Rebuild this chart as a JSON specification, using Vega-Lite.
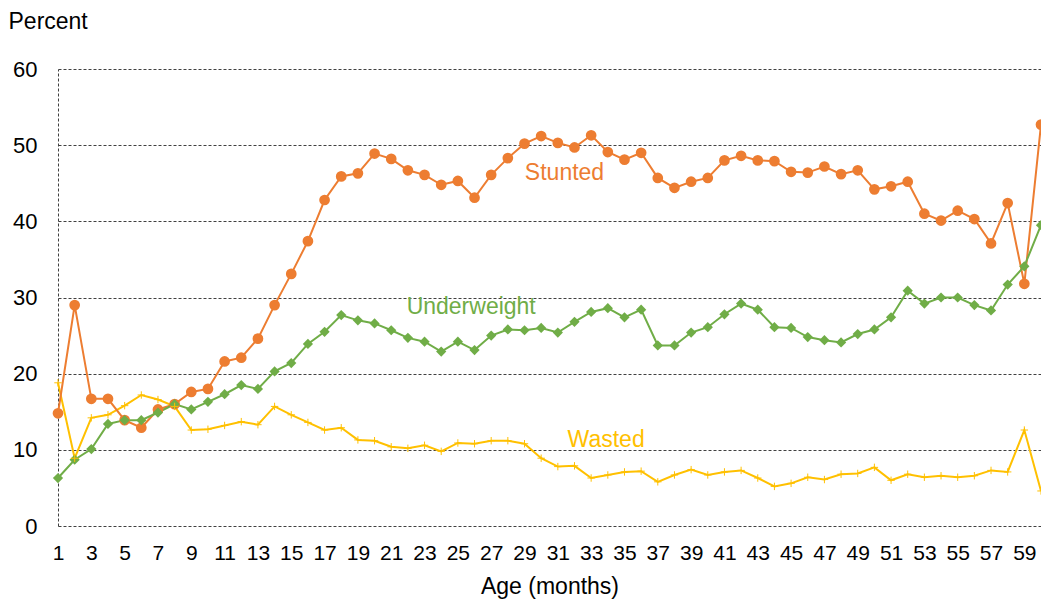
{
  "$schema": "https://vega.github.io/schema/vega-lite/v6.json",
  "autosize": {"type": "none"},
  "width": 983,
  "height": 457,
  "padding": {"left": 58, "top": 69, "right": 0, "bottom": 74},
  "background": "white",
  "config": {
    "view": {"stroke": null},
    "font": "Liberation Sans",
    "axis": {"labelFont": "Liberation Sans", "titleFont": "Liberation Sans", "labelColor": "#000", "titleColor": "#000", "titleFontWeight": "normal"}
  },
  "datasets": {
    "rates": [
      {"age": 1, "Stunted": 14.8, "Underweight": 6.3, "Wasted": 18.8},
      {"age": 2, "Stunted": 29.0, "Underweight": 8.7, "Wasted": 8.9},
      {"age": 3, "Stunted": 16.7, "Underweight": 10.1, "Wasted": 14.2},
      {"age": 4, "Stunted": 16.7, "Underweight": 13.4, "Wasted": 14.6},
      {"age": 5, "Stunted": 13.9, "Underweight": 13.9, "Wasted": 15.8},
      {"age": 6, "Stunted": 12.9, "Underweight": 13.9, "Wasted": 17.2},
      {"age": 7, "Stunted": 15.3, "Underweight": 14.9, "Wasted": 16.6},
      {"age": 8, "Stunted": 16.0, "Underweight": 16.0, "Wasted": 15.7},
      {"age": 9, "Stunted": 17.6, "Underweight": 15.3, "Wasted": 12.6},
      {"age": 10, "Stunted": 18.0, "Underweight": 16.3, "Wasted": 12.7},
      {"age": 11, "Stunted": 21.6, "Underweight": 17.3, "Wasted": 13.2},
      {"age": 12, "Stunted": 22.1, "Underweight": 18.5, "Wasted": 13.7},
      {"age": 13, "Stunted": 24.6, "Underweight": 18.0, "Wasted": 13.3},
      {"age": 14, "Stunted": 29.0, "Underweight": 20.3, "Wasted": 15.7},
      {"age": 15, "Stunted": 33.1, "Underweight": 21.4, "Wasted": 14.6},
      {"age": 16, "Stunted": 37.4, "Underweight": 23.9, "Wasted": 13.6},
      {"age": 17, "Stunted": 42.8, "Underweight": 25.5, "Wasted": 12.6},
      {"age": 18, "Stunted": 45.9, "Underweight": 27.7, "Wasted": 12.9},
      {"age": 19, "Stunted": 46.3, "Underweight": 27.0, "Wasted": 11.3},
      {"age": 20, "Stunted": 48.9, "Underweight": 26.6, "Wasted": 11.2},
      {"age": 21, "Stunted": 48.2, "Underweight": 25.7, "Wasted": 10.4},
      {"age": 22, "Stunted": 46.7, "Underweight": 24.7, "Wasted": 10.2},
      {"age": 23, "Stunted": 46.1, "Underweight": 24.2, "Wasted": 10.6},
      {"age": 24, "Stunted": 44.8, "Underweight": 22.9, "Wasted": 9.8},
      {"age": 25, "Stunted": 45.3, "Underweight": 24.2, "Wasted": 10.9},
      {"age": 26, "Stunted": 43.1, "Underweight": 23.1, "Wasted": 10.8},
      {"age": 27, "Stunted": 46.1, "Underweight": 25.0, "Wasted": 11.2},
      {"age": 28, "Stunted": 48.3, "Underweight": 25.8, "Wasted": 11.2},
      {"age": 29, "Stunted": 50.2, "Underweight": 25.7, "Wasted": 10.8},
      {"age": 30, "Stunted": 51.2, "Underweight": 26.0, "Wasted": 8.9},
      {"age": 31, "Stunted": 50.3, "Underweight": 25.4, "Wasted": 7.8},
      {"age": 32, "Stunted": 49.7, "Underweight": 26.8, "Wasted": 7.9},
      {"age": 33, "Stunted": 51.3, "Underweight": 28.1, "Wasted": 6.3},
      {"age": 34, "Stunted": 49.1, "Underweight": 28.6, "Wasted": 6.7},
      {"age": 35, "Stunted": 48.1, "Underweight": 27.4, "Wasted": 7.1},
      {"age": 36, "Stunted": 49.0, "Underweight": 28.4, "Wasted": 7.2},
      {"age": 37, "Stunted": 45.7, "Underweight": 23.7, "Wasted": 5.8},
      {"age": 38, "Stunted": 44.4, "Underweight": 23.7, "Wasted": 6.7},
      {"age": 39, "Stunted": 45.2, "Underweight": 25.4, "Wasted": 7.4},
      {"age": 40, "Stunted": 45.7, "Underweight": 26.1, "Wasted": 6.7},
      {"age": 41, "Stunted": 48.0, "Underweight": 27.8, "Wasted": 7.1},
      {"age": 42, "Stunted": 48.6, "Underweight": 29.2, "Wasted": 7.3},
      {"age": 43, "Stunted": 48.0, "Underweight": 28.4, "Wasted": 6.3},
      {"age": 44, "Stunted": 47.9, "Underweight": 26.1, "Wasted": 5.2},
      {"age": 45, "Stunted": 46.5, "Underweight": 26.0, "Wasted": 5.6},
      {"age": 46, "Stunted": 46.4, "Underweight": 24.8, "Wasted": 6.4},
      {"age": 47, "Stunted": 47.2, "Underweight": 24.4, "Wasted": 6.1},
      {"age": 48, "Stunted": 46.2, "Underweight": 24.1, "Wasted": 6.8},
      {"age": 49, "Stunted": 46.7, "Underweight": 25.2, "Wasted": 6.9},
      {"age": 50, "Stunted": 44.2, "Underweight": 25.8, "Wasted": 7.7},
      {"age": 51, "Stunted": 44.6, "Underweight": 27.4, "Wasted": 6.0},
      {"age": 52, "Stunted": 45.2, "Underweight": 30.9, "Wasted": 6.8},
      {"age": 53, "Stunted": 41.0, "Underweight": 29.2, "Wasted": 6.4},
      {"age": 54, "Stunted": 40.1, "Underweight": 30.0, "Wasted": 6.6},
      {"age": 55, "Stunted": 41.4, "Underweight": 30.0, "Wasted": 6.4},
      {"age": 56, "Stunted": 40.3, "Underweight": 29.0, "Wasted": 6.6},
      {"age": 57, "Stunted": 37.1, "Underweight": 28.3, "Wasted": 7.3},
      {"age": 58, "Stunted": 42.4, "Underweight": 31.7, "Wasted": 7.1},
      {"age": 59, "Stunted": 31.8, "Underweight": 34.1, "Wasted": 12.6},
      {"age": 60, "Stunted": 52.7, "Underweight": 39.5, "Wasted": 4.6}
    ],
    "labels": [
      {"age": 31.4, "value": 46.4, "series": "Stunted"},
      {"age": 25.8, "value": 28.8, "series": "Underweight"},
      {"age": 33.9, "value": 11.3, "series": "Wasted"}
    ]
  },
  "data": {"name": "rates"},
  "transform": [{"fold": ["Wasted", "Stunted", "Underweight"], "as": ["series", "value"]}],
  "encoding": {
    "x": {
      "field": "age", "type": "quantitative",
      "scale": {"domain": [1, 60], "nice": false, "zero": false},
      "axis": {
        "values": [1,3,5,7,9,11,13,15,17,19,21,23,25,27,29,31,33,35,37,39,41,43,45,47,49,51,53,55,57,59],
        "grid": false, "domain": false, "ticks": false,
        "labelFontSize": 21, "labelPadding": 16, "labelFlush": false,
        "title": "Age (months)", "titleFontSize": 23,
        "titleBaseline": "alphabetic", "titleY": 67
      }
    },
    "y": {
      "field": "value", "type": "quantitative",
      "scale": {"domain": [0, 60], "nice": false},
      "axis": {
        "values": [0,10,20,30,40,50,60],
        "grid": true, "gridDash": [3, 2], "gridColor": "#404040", "gridWidth": 1,
        "domain": true, "domainDash": [3, 2], "domainColor": "#404040", "domainWidth": 1,
        "ticks": false, "labelFontSize": 22, "labelPadding": 21,
        "title": "Percent", "titleFontSize": 23, "titleAngle": 0,
        "titleAlign": "left", "titleBaseline": "alphabetic",
        "titleX": -50, "titleY": -41
      }
    },
    "color": {
      "field": "series", "type": "nominal",
      "scale": {"domain": ["Stunted", "Underweight", "Wasted"], "range": ["#ED7D31", "#70AD47", "#FFC000"]},
      "legend": null
    }
  },
  "layer": [
    {
      "mark": {"type": "line", "strokeWidth": 2},
      "encoding": {"detail": {"field": "series"}}
    },
    {
      "transform": [{"filter": "datum.series === 'Stunted'"}],
      "mark": {"type": "point", "shape": "circle", "filled": true, "opacity": 1, "size": 115}
    },
    {
      "transform": [{"filter": "datum.series === 'Underweight'"}],
      "mark": {"type": "point", "shape": "diamond", "filled": true, "opacity": 1, "size": 105}
    },
    {
      "transform": [{"filter": "datum.series === 'Wasted'"}],
      "mark": {"type": "point", "shape": "M-1,0H1M0,-1V1", "filled": false, "opacity": 1, "size": 55, "strokeWidth": 1}
    },
    {
      "data": {"name": "labels"},
      "transform": [],
      "mark": {"type": "text", "fontSize": 23, "align": "center", "baseline": "middle", "font": "Liberation Sans"},
      "encoding": {"text": {"field": "series"}}
    }
  ]
}
